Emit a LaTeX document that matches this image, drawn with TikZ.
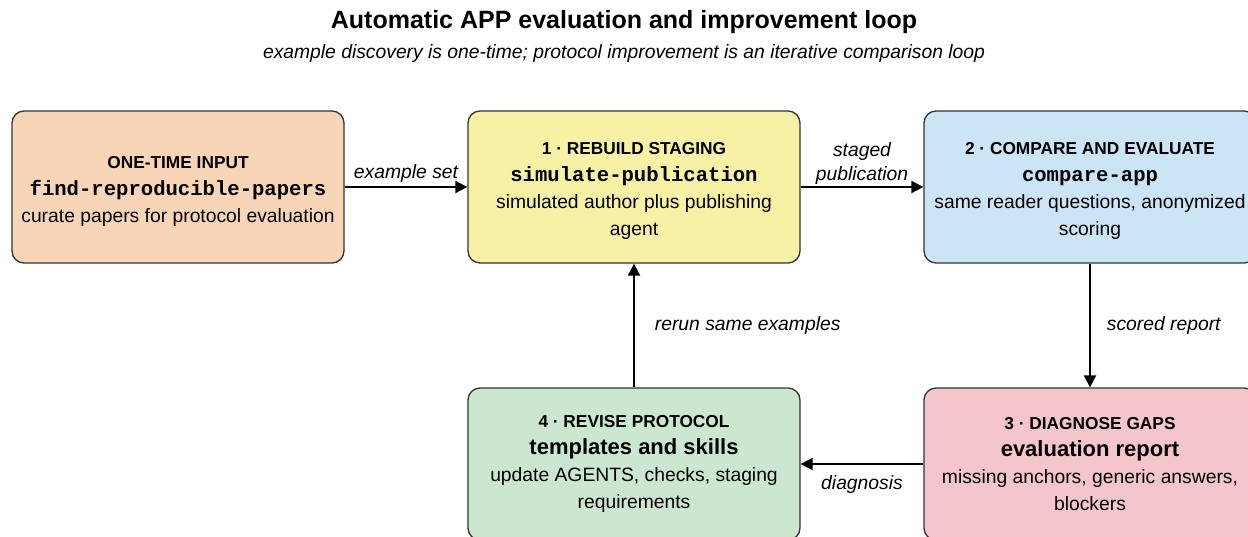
\documentclass[tikz,border=0pt]{standalone}
\usepackage{fontspec}
\setmainfont{Liberation Sans}
\setmonofont{Liberation Mono}
\usetikzlibrary{arrows.meta}
\definecolor{inputfill}{HTML}{F9D5B8}
\definecolor{rebuildfill}{HTML}{F7F1A6}
\definecolor{comparefill}{HTML}{CBE5F6}
\definecolor{diagnosefill}{HTML}{F5C5CC}
\definecolor{revisefill}{HTML}{CCE7CF}
\definecolor{boxline}{HTML}{333333}
\newcommand{\stagehead}[1]{{\fontsize{17.3}{27}\selectfont\bfseries #1}}
\newcommand{\stagetool}[1]{{\fontsize{20.6}{27}\selectfont\ttfamily\bfseries #1}}
\newcommand{\stagebig}[1]{{\fontsize{22}{27}\selectfont\bfseries #1}}
\newcommand{\stagelift}{\rule{0pt}{20pt}}

\begin{document}
\begin{tikzpicture}[x=1pt,y=-1pt,
    stage/.style={draw=boxline,line width=1.3pt,rounded corners=12pt,
      minimum width=332pt,minimum height=152pt,inner sep=0pt,align=center,
      font=\fontsize{19.3}{27}\selectfont},
    flow/.style={line width=1.8pt,-{Triangle[length=12pt,width=12pt]}},
    lbl/.style={font=\fontsize{19.3}{24}\selectfont\itshape,inner sep=2pt}]
    % page
    \useasboundingbox (0,0) rectangle (1248,536);
    \clip (0,0) rectangle (1248,536);
    % Title
    \node[font=\fontsize{25}{30}\selectfont\bfseries] (title) at (624,22)
        {Automatic APP evaluation and improvement loop};
    \node[font=\fontsize{19.3}{24}\selectfont\itshape] (subtitle) at (624,54)
        {example discovery is one-time; protocol improvement is an iterative comparison loop};
    % Stages
    \node[stage,fill=inputfill] (input) at (178,187)
        {\stagelift\stagehead{ONE-TIME INPUT}\\ \stagetool{find-reproducible-papers}\\
         curate papers for protocol evaluation};
    \node[stage,fill=rebuildfill] (rebuild) at (634,187)
        {\stagelift\stagehead{1 · REBUILD STAGING}\\ \stagetool{simulate-publication}\\
         simulated author plus publishing\\ agent};
    \node[stage,fill=comparefill] (compare) at (1090,187)
        {\stagelift\stagehead{2 · COMPARE AND EVALUATE}\\ \stagetool{compare-app}\\
         same reader questions, anonymized\\ scoring};
    \node[stage,fill=diagnosefill] (diagnose) at (1090,464)
        {\stagehead{3 · DIAGNOSE GAPS}\\ \stagebig{evaluation report}\\
         missing anchors, generic answers,\\ blockers};
    \node[stage,fill=revisefill] (revise) at (634,464)
        {\stagehead{4 · REVISE PROTOCOL}\\ \stagebig{templates and skills}\\
         update AGENTS, checks, staging\\ requirements};
    % Flow
    \draw[flow] (input) -- node[lbl,above=2pt] {example set} (rebuild);
    \draw[flow] (rebuild) -- node[lbl,above=0pt,align=center] {staged\\publication} (compare);
    \draw[flow] (compare) -- node[lbl,right=14pt] {scored report} (diagnose);
    \draw[flow] (diagnose) -- node[lbl,below=9pt] {diagnosis} (revise);
    \draw[flow] (revise) -- node[lbl,right=18pt] {rerun same examples} (rebuild);
\end{tikzpicture}
\end{document}
